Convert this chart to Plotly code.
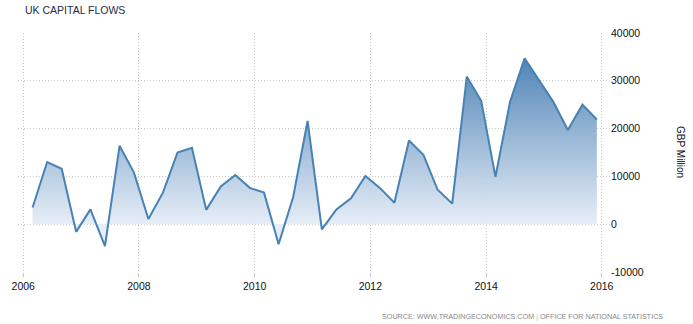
import plotly.graph_objects as go

dates = [
    "2006-03-01", "2006-06-01", "2006-09-01", "2006-12-01",
    "2007-03-01", "2007-06-01", "2007-09-01", "2007-12-01",
    "2008-03-01", "2008-06-01", "2008-09-01", "2008-12-01",
    "2009-03-01", "2009-06-01", "2009-09-01", "2009-12-01",
    "2010-03-01", "2010-06-01", "2010-09-01", "2010-12-01",
    "2011-03-01", "2011-06-01", "2011-09-01", "2011-12-01",
    "2012-03-01", "2012-06-01", "2012-09-01", "2012-12-01",
    "2013-03-01", "2013-06-01", "2013-09-01", "2013-12-01",
    "2014-03-01", "2014-06-01", "2014-09-01", "2014-12-01",
    "2015-03-01", "2015-06-01", "2015-09-01", "2015-12-01",
]
capital_flows = [
    3500, 13000, 11600, -1600,
    3100, -4600, 16400, 10800,
    1100, 6600, 15000, 16000,
    3000, 7900, 10300, 7600,
    6600, -4200, 5700, 21600,
    -1100, 3100, 5400, 10100,
    7600, 4500, 17500, 14500,
    7200, 4300, 30900, 25800,
    9900, 25600, 34700, 30000,
    25600, 19700, 25000, 21900,
]
y_ticks = [-10000, 0, 10000, 20000, 30000, 40000]
y_tick_labels = ["-10000", "0", "10000", "20000", "30000", "40000"]

title_text = "UK CAPITAL FLOWS"
y_title = "GBP Million"
source_text = ("SOURCE: WWW.TRADINGECONOMICS.COM <span style='color:#bbbbbb'>|</span> "
               "OFFICE FOR NATIONAL STATISTICS")

W, H = 693, 324
ML, MR, MT, MB = 13, 83, 33, 52

fig = go.Figure()
fig.add_trace(go.Scatter(
    x=dates, y=capital_flows,
    mode="lines",
    line=dict(color="#4682b4", width=2),
    fill="tozeroy",
    fillgradient=dict(
        type="vertical",
        start=0, stop=35000,
        colorscale=[[0, "rgba(228,236,246,0.92)"], [1, "rgba(70,125,178,0.95)"]],
    ),
    hoverinfo="skip",
    showlegend=False,
))

grid = "#c8c8c8"
fig.update_layout(
    width=W, height=H,
    margin=dict(l=ML, r=MR, t=MT, b=MB, pad=0),
    paper_bgcolor="white", plot_bgcolor="white",
    font=dict(family="Liberation Sans, Arial, sans-serif", size=10, color="#222222"),
    title=dict(text=title_text, x=25 / W, xref="container", xanchor="left",
               y=1 - 10 / H, yref="container", yanchor="middle",
               font=dict(size=10.5, color="#2a2a4a")),
    xaxis=dict(
        type="date",
        range=["2005-11-29", "2016-02-22"],
        tick0="2006-01-01", dtick="M24", tickformat="%Y",
        showgrid=True, gridcolor=grid, griddash="1px,2px", gridwidth=1,
        ticks="outside", ticklen=4, tickcolor=grid,
        showline=False, zeroline=False,
        tickfont=dict(size=10.5, color="#111111"),
    ),
    yaxis=dict(
        side="right",
        range=[-10000, 40000],
        tickvals=y_ticks, ticktext=y_tick_labels,
        showgrid=True, gridcolor=grid, griddash="1px,2px", gridwidth=1,
        ticks="", zeroline=False, showline=False,
        tickfont=dict(size=10.5, color="#111111"),
    ),
    annotations=[
        dict(text=y_title, textangle=90, xref="paper", yref="paper",
             x=1 + (681 - (W - MR)) / (W - ML - MR), y=0.5,
             xanchor="center", yanchor="middle", showarrow=False,
             font=dict(size=10, color="#111111")),
        dict(text=source_text, xref="paper", yref="paper",
             x=1 + (665 - (W - MR)) / (W - ML - MR), y=-(316 - (H - MB)) / (H - MT - MB),
             xanchor="right", yanchor="middle", showarrow=False,
             font=dict(size=7.2, color="#888888")),
    ],
)

fig.write_html("out.html")
